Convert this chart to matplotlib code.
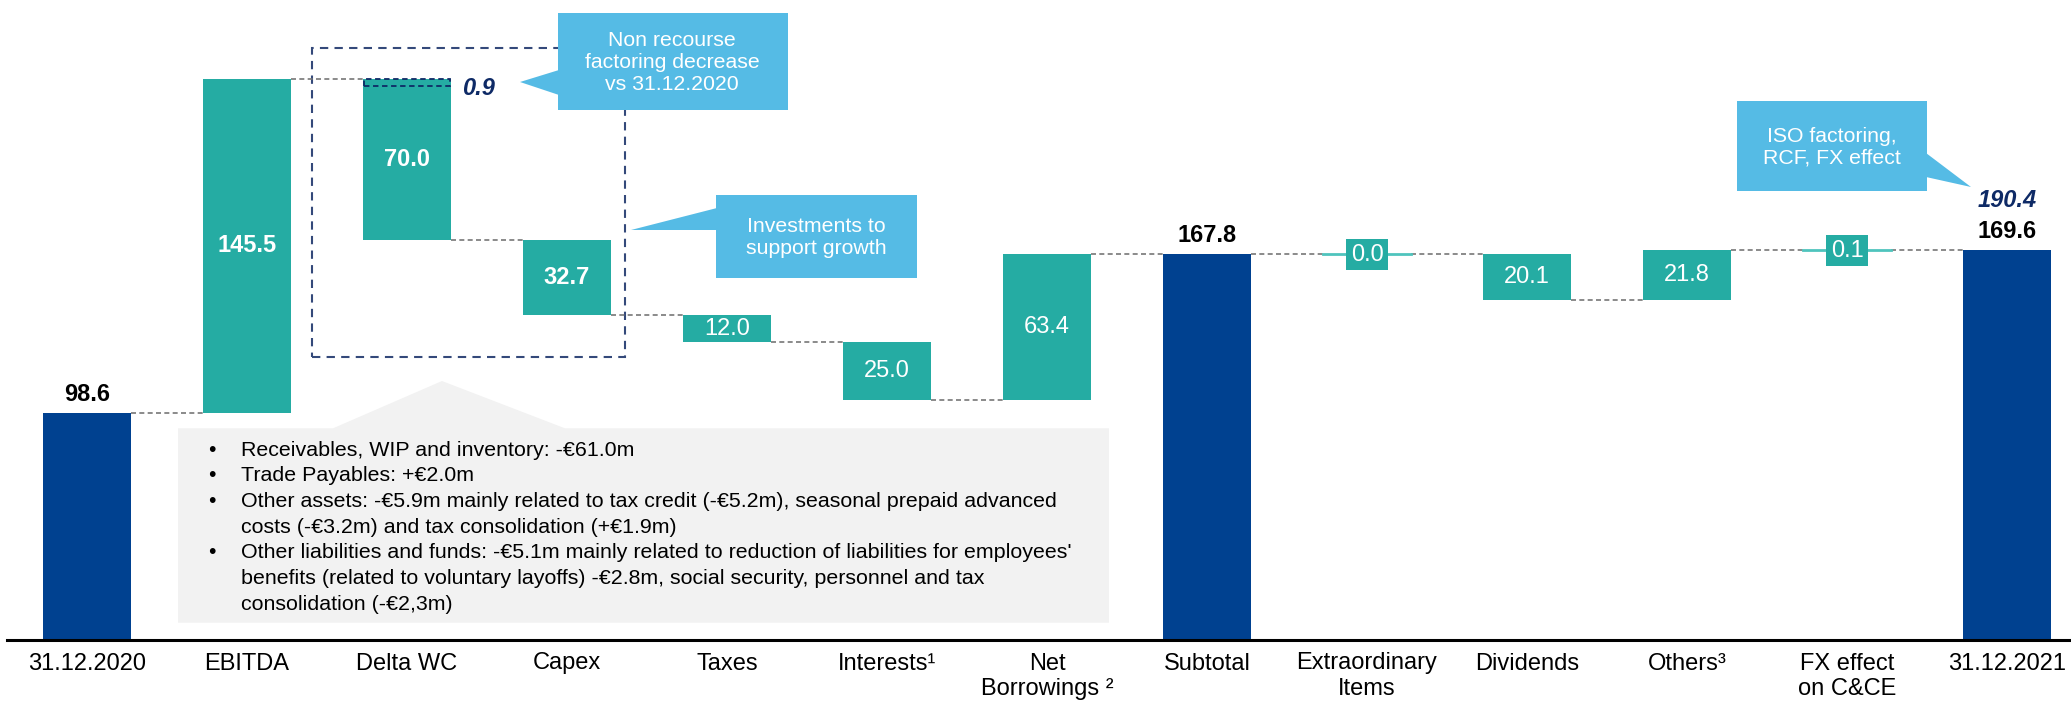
import matplotlib
matplotlib.use("Agg")
import matplotlib.pyplot as plt
from matplotlib.patches import Rectangle, Polygon
import numpy as np

plt.rcParams['font.family'] = ['Liberation Sans', 'DejaVu Sans']

# data (EUR m)
categories = ['31.12.2020', 'EBITDA', 'Delta WC', 'Capex', 'Taxes', 'Interests¹',
              'Net\nBorrowings ²', 'Subtotal', 'Extraordinary\nItems', 'Dividends',
              'Others³', 'FX effect\non C&CE', '31.12.2021']
changes = [98.6, 145.5, -70.0, -32.7, -12.0, -25.0, 63.4, 0, 0.0, -20.1, 21.8, 0.1, 0]
is_total = [True, False, False, False, False, False, False, True, False, False, False, False, True]
bold_label = [True, True, True, True, False, False, False, True, False, False, False, False, True]
factoring = 0.9        # non recourse factoring decrease inside Delta WC
adjusted_final = 190.4

teal = '#25ACA3'
navy = '#004190'
callout_blue = '#55BBE5'
dark_navy = '#0E2A66'
W, H = 2071, 704

# running levels
bottoms, heights, levels = [], [], []
level = 0.0
for c, t in zip(changes, is_total):
    if t:
        if level == 0:
            level = c
        bottoms.append(0)
        heights.append(level)
    else:
        bottoms.append(min(level, level + c))
        heights.append(abs(c))
        level = level + c
    levels.append(level)

fig = plt.figure(figsize=(W / 100, H / 100), dpi=100)
ax = fig.add_axes([0, 64 / H, 1, 1 - 64 / H])
ax.set_xlim(-0.544, 12.40)
ax.set_ylim(0, 640 / 2.3)
ax.set_zorder(2)
ax.patch.set_alpha(0)

x = np.arange(len(categories))
bw = 0.553
colors = [navy if t else teal for t in is_total]
ax.bar(x, heights, bottom=bottoms, width=bw, color=colors, zorder=3)

# connectors
for i in range(len(x) - 1):
    ax.plot([x[i] + bw / 2, x[i + 1] - bw / 2], [levels[i], levels[i]],
            color='#777777', ls=(0, (3, 2)), lw=1.2, zorder=2)

# labels
for i in range(len(x)):
    wt = 'bold' if bold_label[i] else 'normal'
    if is_total[i]:
        ax.annotate(f'{heights[i]:.1f}', (x[i], heights[i]), xytext=(0, 5),
                    textcoords='offset points', ha='center', va='bottom',
                    fontsize=17, fontweight=wt, color='black', zorder=5)
    elif heights[i] < 1:
        ax.plot([x[i] - bw / 2, x[i] + bw / 2], [levels[i], levels[i]],
                color='#4FC4BD', lw=2, zorder=4)
        ax.text(x[i], levels[i] - 0.3, f'{heights[i]:.1f}', ha='center', va='center',
                fontsize=17, color='white', zorder=5,
                bbox=dict(boxstyle='square,pad=0.2', fc=teal, ec='none'))
    else:
        ax.text(x[i], bottoms[i] + heights[i] / 2, f'{heights[i]:.1f}', ha='center',
                va='center', fontsize=17, fontweight=wt, color='white', zorder=5)

# factoring detail on Delta WC
top_wc = bottoms[2] + heights[2]
ax.add_patch(Rectangle((x[2] - bw / 2 + 0.005, top_wc - 3.4), bw - 0.01, 3.4, fill=False,
                       ec=dark_navy, ls=(0, (3, 2)), lw=1.3, zorder=4))
ax.annotate(f'{factoring}', (x[2] + bw / 2, top_wc - 1.7), xytext=(8, -4),
            textcoords='offset points', ha='left', va='center', fontsize=17,
            fontweight='bold', style='italic', color=dark_navy, zorder=5)
ax.annotate(f'{adjusted_final}', (x[-1], heights[-1]), xytext=(0, 27),
            textcoords='offset points', ha='center', va='bottom', fontsize=17,
            fontweight='bold', style='italic', color=dark_navy, zorder=5)

# axis
for s in ['top', 'right', 'left', 'bottom']:
    ax.spines[s].set_visible(False)
ax.plot([7 / 160 - 0.544, 12.40], [0, 0], color='black', lw=2.2, zorder=6, clip_on=False)
ax.set_yticks([])
ax.set_xticks(x)
ax.set_xticklabels(categories, fontsize=17)
ax.tick_params(axis='x', length=0, pad=9)


def fp(px, py):
    return (px / W, 1 - py / H)


# grey comment box for Delta WC
fig.patches.append(Polygon([fp(178, 428.3), fp(333, 428.3), fp(442, 381), fp(565, 428.3),
                            fp(1109, 428.3), fp(1109, 622.7), fp(178, 622.7)],
                           closed=True, transform=fig.transFigure, fc='#F2F2F2', ec='none', zorder=0))
bullets = [
    ['Receivables, WIP and inventory: -€61.0m'],
    ['Trade Payables: +€2.0m'],
    ['Other assets: -€5.9m mainly related to tax credit (-€5.2m), seasonal prepaid advanced',
     'costs (-€3.2m) and tax consolidation (+€1.9m)'],
    ["Other liabilities and funds: -€5.1m mainly related to reduction of liabilities for employees'",
     'benefits (related to voluntary layoffs) -€2.8m, social security, personnel and tax',
     'consolidation (-€2,3m)'],
]
yy = 450
for b in bullets:
    fig.text(*fp(208, yy), '•', fontsize=15.4, ha='left', va='center', zorder=7)
    for line in b:
        fig.text(*fp(240.6, yy), line, fontsize=15.4, ha='left', va='center', zorder=7)
        yy += 25.7

# dashed frame around Delta WC / Capex
fig.patches.append(Rectangle(fp(311.6, 356.7), (625 - 311.6) / W, (356.7 - 47.7) / H,
                             transform=fig.transFigure, fill=False, ec='#34497A',
                             ls=(0, (4, 3)), lw=1.5, zorder=1))
ax_overlay = fig.add_axes([0, 0, 1, 1])
ax_overlay.set_xlim(0, W)
ax_overlay.set_ylim(H, 0)
ax_overlay.axis('off')
ax_overlay.set_zorder(3)


def callout(box, tip, base, text, cx, cy):
    x0, x1, y0, y1 = box
    ax_overlay.add_patch(Rectangle((x0, y0), x1 - x0, y1 - y0, fc=callout_blue, ec='none'))
    ax_overlay.add_patch(Polygon([base[0], tip, base[1]], closed=True, fc=callout_blue, ec='none'))
    ax_overlay.text(cx, cy, text, ha='center', va='center', fontsize=15.3, color='white',
                    linespacing=1.2)


callout((558, 787.5, 13.3, 110), (520, 82), [(559, 70), (559, 95)],
        'Non recourse\nfactoring decrease\nvs 31.12.2020', 672, 62)
callout((716, 917, 195, 278), (631, 230), [(717, 208), (717, 230)],
        'Investments to\nsupport growth', 816.5, 237.5)
callout((1736.6, 1927, 101, 191), (1971, 187), [(1926, 153), (1926, 177)],
        'ISO factoring,\nRCF, FX effect', 1832, 147)

fig.savefig('out.png', dpi=100)
